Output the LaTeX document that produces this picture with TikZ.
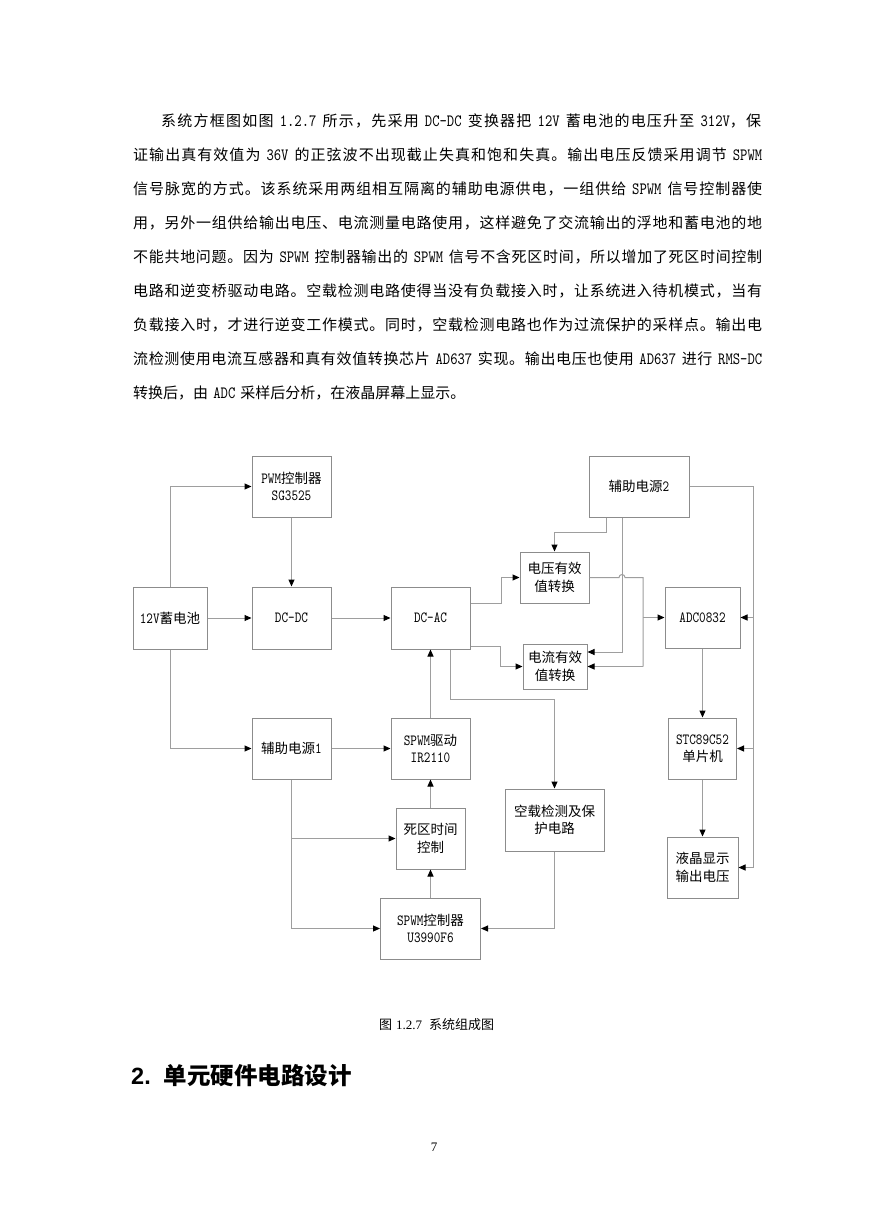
\documentclass[tikz,border=0pt]{standalone}
\usepackage{fontspec}
\usetikzlibrary{arrows.meta}
\setmainfont{lmmono10-regular.otf}[Scale=1.15,FakeStretch=0.81,WordSpace=0.7]
\newfontfamily\latf{lmmono10-regular.otf}[Scale=1.15,FakeStretch=0.81,WordSpace=0.7]
\newfontfamily\cjkf{Noto Sans CJK SC}
\newfontfamily\serf{Liberation Serif}
\newfontfamily\sanf{Liberation Sans}

% switch to the CJK font at Chinese characters
\XeTeXinterchartokenstate=1
\ifdefined\newXeTeXintercharclass \newXeTeXintercharclass\cjkclass \else \chardef\cjkclass=7 \fi
\newcount\cjkcnt
\def\setcjkrange#1#2{\cjkcnt=#1 \loop \XeTeXcharclass\cjkcnt=\cjkclass \advance\cjkcnt by 1 \ifnum\cjkcnt<#2 \repeat}
\setcjkrange{"3000}{"3040}
\setcjkrange{"4E00}{"A000}
\setcjkrange{"FF00}{"FFF0}
\XeTeXinterchartoks 0 \cjkclass = {\cjkf}
\XeTeXinterchartoks 4095 \cjkclass = {\cjkf}
\XeTeXinterchartoks \cjkclass 0 = {\latf}
\XeTeXinterchartoks \cjkclass 4095 = {\latf}
\XeTeXinterchartoks \cjkclass \cjkclass = {\hskip 0pt plus 0.2em\relax}

\newcommand\bodyfont{\fontsize{15}{20}\selectfont}
\newcommand\diagfont{\fontsize{13.5}{17.5}\selectfont}
\newcommand\capfont{\fontsize{13}{15}\selectfont}
\newcommand\headfont{\fontsize{23.5}{28}\selectfont\bfseries}

\begin{document}
\begin{tikzpicture}[x=1pt,y=-1pt,
  ln/.style={draw=black!38,line width=1pt},
  arr/.style={ln,-{Triangle[length=7pt,width=6pt,color=black]}},
  blk/.style={draw=black!45,line width=1pt,inner sep=0pt,align=center,font=\diagfont},
  txt/.style={inner sep=0pt,font=\bodyfont,anchor=base west}]

\useasboundingbox[fill=white] (0,0) rectangle (869,1228);

% paragraph above the figure
\node[txt] (line1) at (161,127) {\makebox[600pt][s]{系统方框图如图 1.2.7 所示，先采用 DC-DC 变换器把 12V 蓄电池的电压升至 312V，保}};
\foreach \txtline [count=\i from 2] in {%
  证输出真有效值为 36V 的正弦波不出现截止失真和饱和失真。输出电压反馈采用调节 SPWM,
  信号脉宽的方式。该系统采用两组相互隔离的辅助电源供电，一组供给 SPWM 信号控制器使,
  用，另外一组供给输出电压、电流测量电路使用，这样避免了交流输出的浮地和蓄电池的地,
  不能共地问题。因为 SPWM 控制器输出的 SPWM 信号不含死区时间，所以增加了死区时间控制,
  电路和逆变桥驱动电路。空载检测电路使得当没有负载接入时，让系统进入待机模式，当有,
  负载接入时，才进行逆变工作模式。同时，空载检测电路也作为过流保护的采样点。输出电,
  流检测使用电流互感器和真有效值转换芯片 AD637 实现。输出电压也使用 AD637 进行 RMS-DC}
  \node[txt] (line\i) at (133,{127+33.9*(\i-1)}) {\makebox[629pt][s]{\txtline}};
\node[txt] (line9) at (133,{127+33.9*8}) {转换后，由 ADC 采样后分析，在液晶屏幕上显示。};

% blocks
\node[blk,minimum width=74pt,minimum height=62pt] (bat) at (170,618) {12V蓄电池};
\node[blk,minimum width=79pt,minimum height=61pt] (pwm) at (291.5,486.5) {PWM控制器\\SG3525};
\node[blk,minimum width=79pt,minimum height=62pt] (dcdc) at (291.5,618) {DC-DC};
\node[blk,minimum width=79pt,minimum height=62pt] (dcac) at (430.5,618) {DC-AC};
\node[blk,minimum width=100pt,minimum height=61pt] (aux2) at (639,486.5) {辅助电源2};
\node[blk,minimum width=69pt,minimum height=51pt] (vrms) at (554.5,577.5) {电压有效\\值转换};
\node[blk,minimum width=64pt,minimum height=45pt] (irms) at (555,666.5) {电流有效\\值转换};
\node[blk,minimum width=75pt,minimum height=61pt] (adc) at (702.5,617.5) {ADC0832};
\node[blk,minimum width=79pt,minimum height=61pt] (aux1) at (291.5,748.5) {辅助电源1};
\node[blk,minimum width=79pt,minimum height=61pt] (drv) at (430.5,748.5) {SPWM驱动\\IR2110};
\node[blk,minimum width=69pt,minimum height=61pt] (dead) at (430.5,838.5) {死区时间\\控制};
\node[blk,minimum width=99pt,minimum height=62pt] (noload) at (554.5,820) {空载检测及保\\护电路};
\node[blk,minimum width=100pt,minimum height=61pt] (spwm) at (430.5,928.5) {SPWM控制器\\U3990F6};
\node[blk,minimum width=68pt,minimum height=61pt] (mcu) at (702.5,748.5) {STC89C52\\单片机};
\node[blk,minimum width=71pt,minimum height=61pt] (lcd) at (702.5,867.5) {液晶显示\\输出电压};

% connections, left half
\draw[arr] (bat.north) |- (pwm.west);
\draw[arr] (pwm.south) -- (dcdc.north);
\draw[arr] (bat.east) -- (dcdc.west);
\draw[arr] (dcdc.east) -- (dcac.west);
\draw[arr] (bat.south) |- (aux1.west);
\draw[arr] (aux1.east) -- (drv.west);
\draw[arr] (drv.north) -- (dcac.south);
\draw[arr] (dead.north) -- (drv.south);
\draw[arr] (spwm.north) -- (dead.south);
\draw[arr] (aux1.south) |- (spwm.west);
\draw[arr] (aux1.south |- dead.west) -- (dead.west);
\draw[arr] ([xshift=19.5pt]dcac.south) -- ++(0,50) -| (noload.north);
\draw[arr] (noload.south) |- (spwm.east);

% connections, right half
\draw[arr] ([yshift=15pt]dcac.east) -- ++(31,0) |- (vrms.west);
\draw[arr] ([yshift=-28pt]dcac.east) -- ++(30,0) |- (irms.west);
\draw[arr] ([xshift=-33pt]aux2.south) -- ++(0,15) -| (vrms.north);
\coordinate (tap) at ([xshift=-17pt]aux2.south);
\draw[arr] (tap) |- ([yshift=14.5pt]irms.east);
\coordinate (hopc) at (tap |- vrms.east);
\coordinate (bus) at (643,577.5);
\draw[ln] (vrms.east) -- ([xshift=-3pt]hopc) arc[start angle=180,end angle=0,radius=3pt] -- (bus) -- (bus |- irms.east);
\draw[arr] (bus |- irms.east) -- (irms.east);
\draw[arr] (bus |- adc.west) -- (adc.west);
\coordinate (rail) at (753,0);
\draw[arr] (aux2.east) -| (rail |- lcd.east) -- (lcd.east);
\draw[arr] (rail |- adc.east) -- (adc.east);
\draw[arr] (rail |- mcu.east) -- (mcu.east);
\draw[arr] (adc.south) -- (mcu.north);
\draw[arr] (mcu.south) -- (lcd.north);

% caption, heading, page number
\node[font=\capfont] (cap) at (436.5,1025) {图\hspace{4pt}{\serf 1.2.7}\hspace{7pt}系统组成图};
\node[anchor=base west,inner sep=0pt,font=\headfont] (head) at (131,1084) {{\sanf 2.}\hspace{13pt}单元硬件电路设计};
\node[font=\fontsize{13}{15}\selectfont\serf] (pnum) at (434,1147) {7};
\end{tikzpicture}
\end{document}
